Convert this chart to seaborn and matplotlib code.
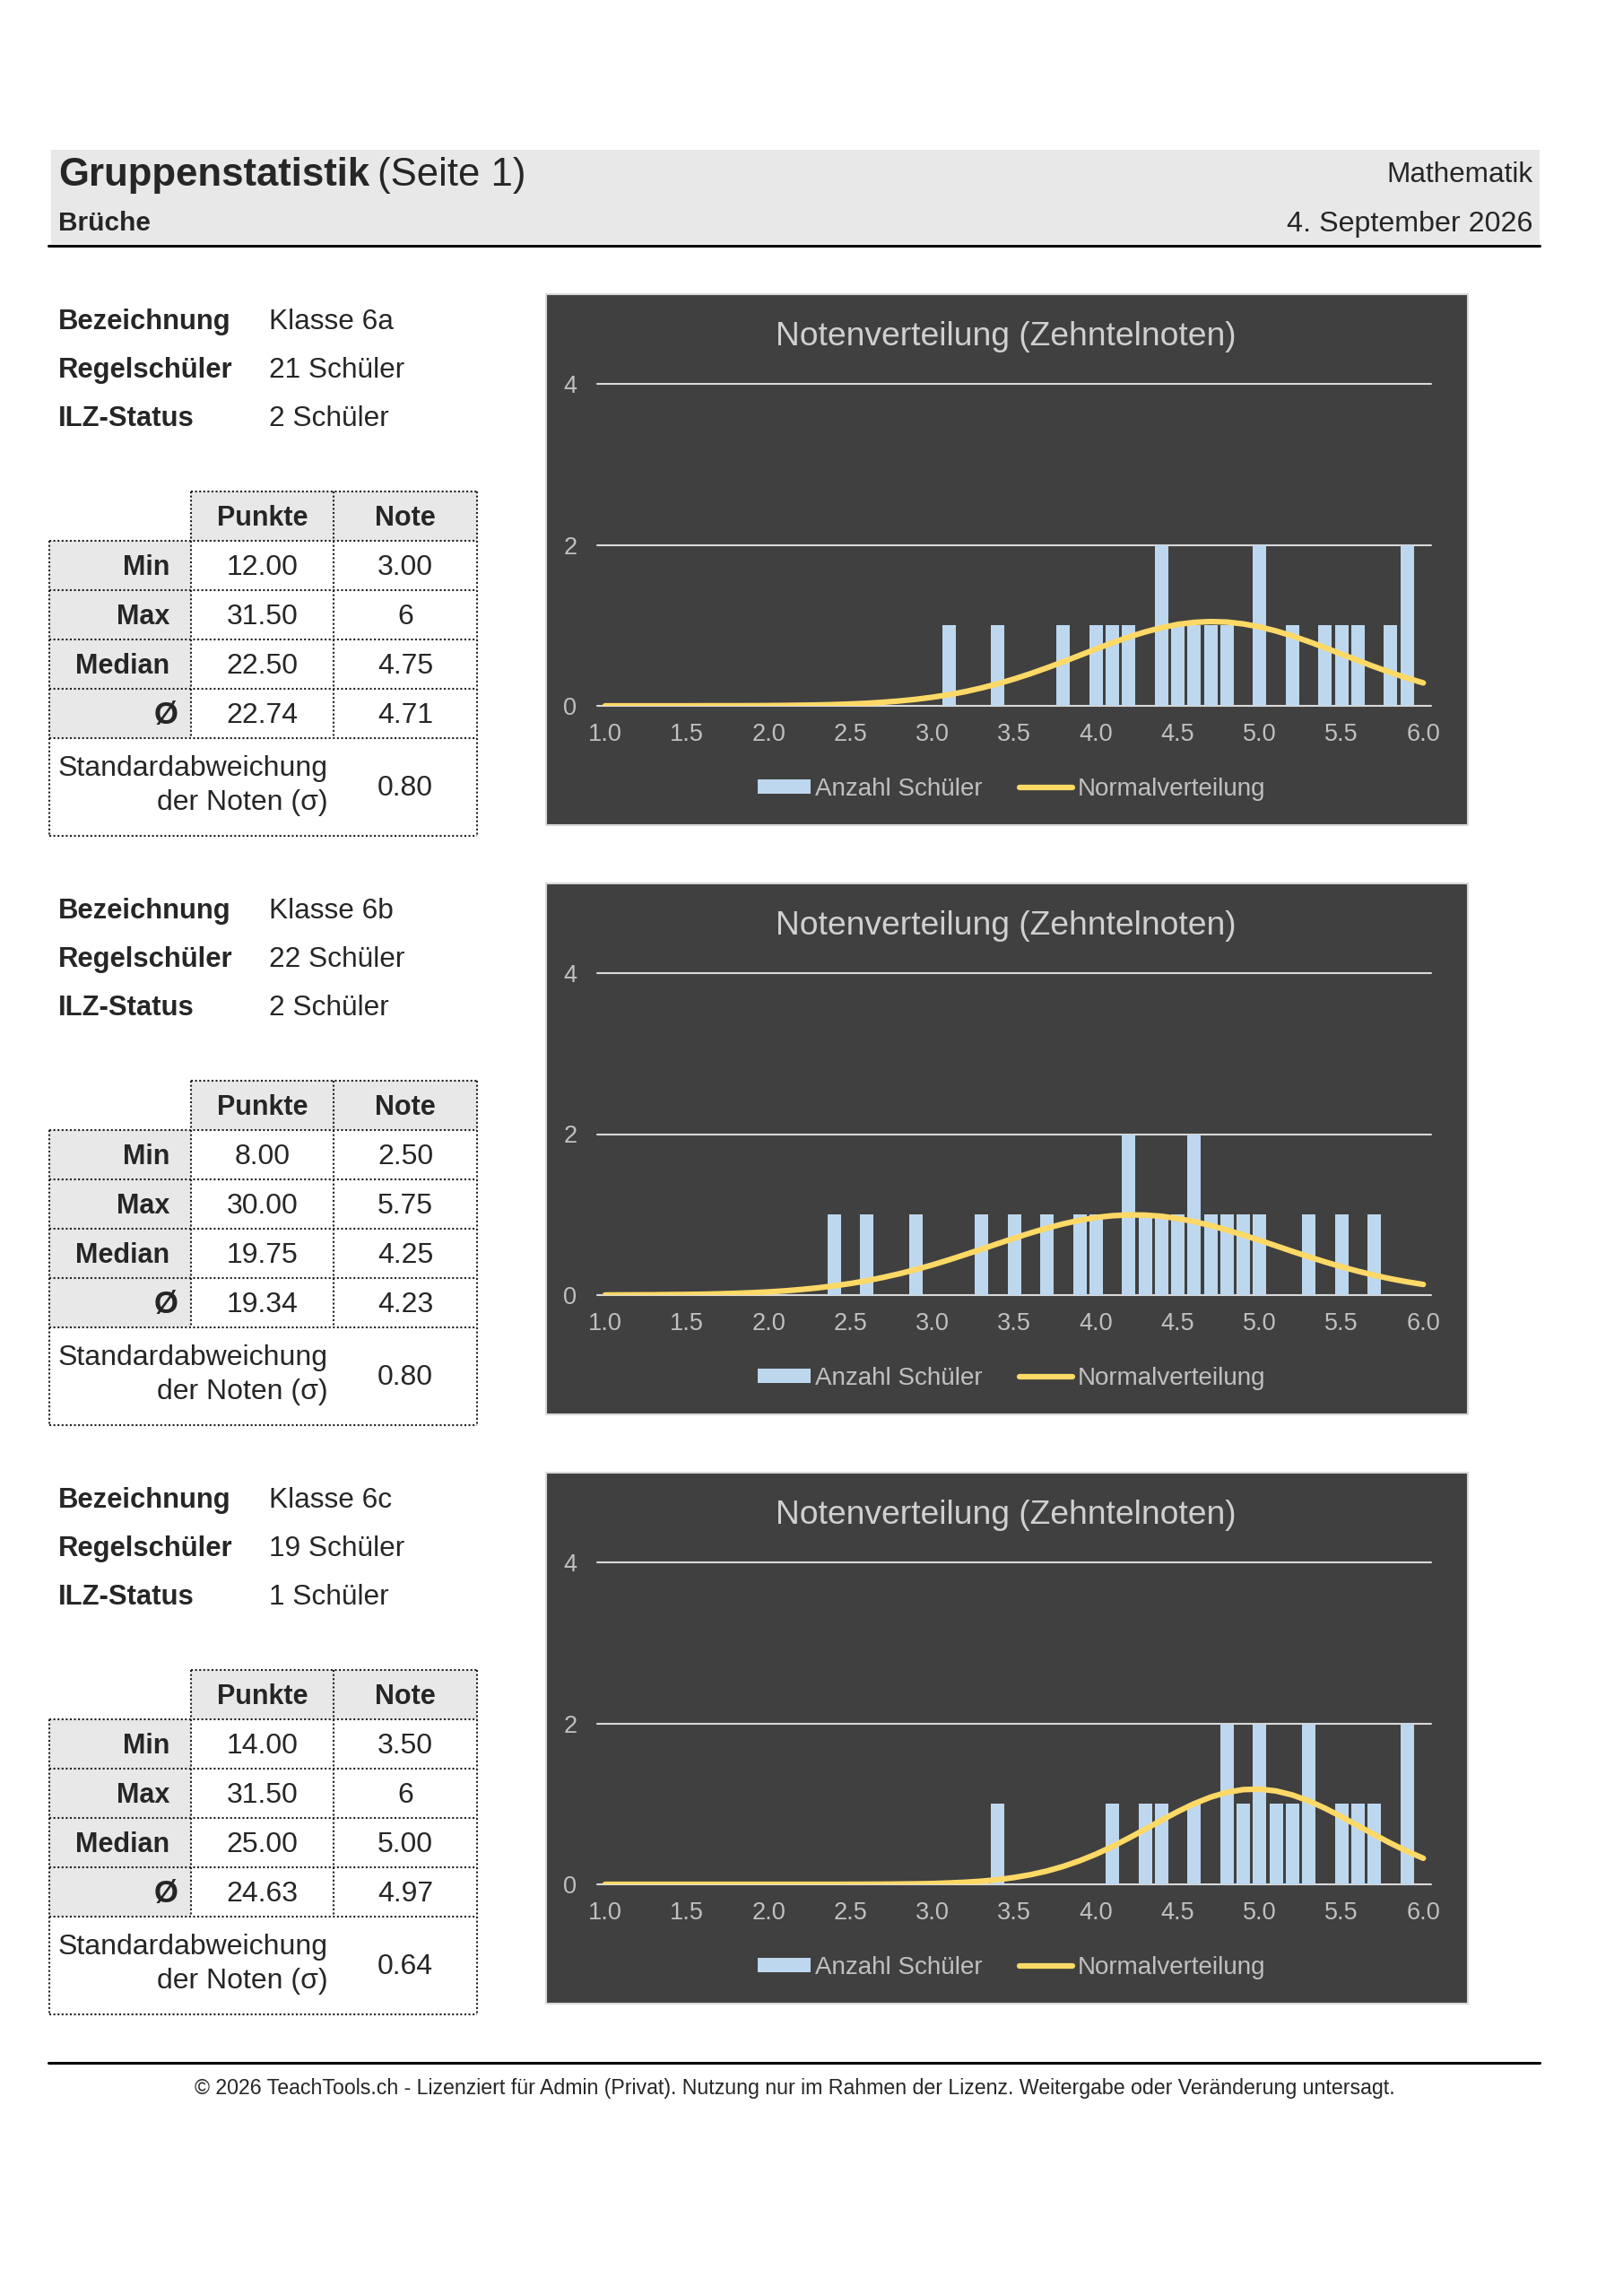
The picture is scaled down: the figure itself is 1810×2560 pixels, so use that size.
import numpy as np
import pandas as pd
import matplotlib
matplotlib.use("Agg")
import matplotlib.pyplot as plt
from matplotlib.patches import Rectangle
import seaborn as sns

# categories of the x axis (Zehntelnoten)
noten = ["1.0", "1.1", "1.2", "1.3", "1.4", "1.5", "1.6", "1.7", "1.8", "1.9",
         "2.0", "2.1", "2.2", "2.3", "2.4", "2.5", "2.6", "2.7", "2.8", "2.9",
         "3.0", "3.1", "3.2", "3.3", "3.4", "3.5", "3.6", "3.7", "3.8", "3.9",
         "4.0", "4.1", "4.2", "4.3", "4.4", "4.5", "4.6", "4.7", "4.8", "4.9",
         "5.0", "5.1", "5.2", "5.3", "5.4", "5.5", "5.6", "5.7", "5.8", "5.9",
         "6.0"]

# bars (Anzahl Schüler)
bar_noten_6a = ["3.1", "3.4", "3.8", "4.0", "4.1", "4.2", "4.4", "4.5", "4.6", "4.7",
                "4.8", "5.0", "5.2", "5.4", "5.5", "5.6", "5.8", "5.9"]
bar_anzahl_6a = [1, 1, 1, 1, 1, 1, 2, 1, 1, 1, 1, 2, 1, 1, 1, 1, 1, 2]
bar_noten_6b = ["2.4", "2.6", "2.9", "3.3", "3.5", "3.7", "3.9", "4.0", "4.2", "4.3",
                "4.4", "4.5", "4.6", "4.7", "4.8", "4.9", "5.0", "5.3", "5.5", "5.7"]
bar_anzahl_6b = [1, 1, 1, 1, 1, 1, 1, 1, 2, 1, 1, 1, 2, 1, 1, 1, 1, 1, 1, 1]
bar_noten_6c = ["3.4", "4.1", "4.3", "4.4", "4.6", "4.8", "4.9", "5.0", "5.1", "5.2",
                "5.3", "5.5", "5.6", "5.7", "5.9"]
bar_anzahl_6c = [1, 1, 1, 1, 1, 2, 1, 2, 1, 1, 2, 1, 1, 1, 2]

# Normalverteilung line, one value per category
kurve_6a = [0.000, 0.000, 0.000, 0.000, 0.000, 0.000, 0.001, 0.001, 0.001, 0.002,
            0.003, 0.005, 0.008, 0.011, 0.016, 0.023, 0.032, 0.045, 0.061, 0.081,
            0.107, 0.138, 0.176, 0.222, 0.274, 0.334, 0.400, 0.472, 0.548, 0.627,
            0.706, 0.783, 0.855, 0.918, 0.971, 1.012, 1.037, 1.047, 1.041, 1.018,
            0.981, 0.930, 0.868, 0.798, 0.722, 0.643, 0.564, 0.487, 0.414, 0.346,
            0.285]
kurve_6b = [0.001, 0.002, 0.003, 0.004, 0.006, 0.008, 0.011, 0.016, 0.022, 0.030,
            0.040, 0.053, 0.070, 0.090, 0.115, 0.144, 0.179, 0.220, 0.266, 0.318,
            0.375, 0.437, 0.503, 0.570, 0.639, 0.707, 0.772, 0.832, 0.885, 0.929,
            0.964, 0.986, 0.996, 0.994, 0.979, 0.951, 0.913, 0.865, 0.808, 0.746,
            0.680, 0.612, 0.543, 0.476, 0.412, 0.352, 0.297, 0.247, 0.203, 0.165,
            0.132]
kurve_6c = [0.000, 0.000, 0.000, 0.000, 0.000, 0.000, 0.000, 0.000, 0.000, 0.000,
            0.000, 0.000, 0.000, 0.000, 0.000, 0.001, 0.001, 0.002, 0.004, 0.006,
            0.010, 0.017, 0.026, 0.039, 0.058, 0.085, 0.120, 0.165, 0.223, 0.293,
            0.375, 0.470, 0.574, 0.684, 0.796, 0.904, 1.002, 1.083, 1.143, 1.177,
            1.183, 1.160, 1.110, 1.037, 0.945, 0.840, 0.729, 0.618, 0.511, 0.412,
            0.324]

# text blocks
klassen = ["Klasse 6a", "Klasse 6b", "Klasse 6c"]
regelschueler = ["21 Schüler", "22 Schüler", "19 Schüler"]
ilz_status = ["2 Schüler", "2 Schüler", "1 Schüler"]
zeilen = ["Min", "Max", "Median", "Ø"]
punkte_6a = ["12.00", "31.50", "22.50", "22.74"]
note_6a = ["3.00", "6", "4.75", "4.71"]
punkte_6b = ["8.00", "30.00", "19.75", "19.34"]
note_6b = ["2.50", "5.75", "4.25", "4.23"]
punkte_6c = ["14.00", "31.50", "25.00", "24.63"]
note_6c = ["3.50", "6", "5.00", "4.97"]
sigma = ["0.80", "0.80", "0.64"]

bar_noten = [bar_noten_6a, bar_noten_6b, bar_noten_6c]
bar_anzahl = [bar_anzahl_6a, bar_anzahl_6b, bar_anzahl_6c]
kurven = [kurve_6a, kurve_6b, kurve_6c]
punkte = [punkte_6a, punkte_6b, punkte_6c]
note = [note_6a, note_6b, note_6c]

sns.set_theme(style="white")
plt.rcParams['font.family'] = ['Liberation Sans', 'DejaVu Sans']

W, H = 1810, 2560
fig = plt.figure(figsize=(W / 100, H / 100), dpi=100)
pg = fig.add_axes([0, 0, 1, 1])
pg.set_xlim(0, W)
pg.set_ylim(H, 0)
pg.axis('off')

GRAY = '#e8e8e8'
DARK = '#404040'
LIGHT = '#c0c0c0'
BLUE = '#bdd7ee'
YELLOW = '#ffd966'

# header
pg.add_patch(Rectangle((57, 167), 1660, 105, fc=GRAY, ec='none'))
pg.plot([54, 1717], [274, 274], color='black', lw=2.2)
t = pg.text(65, 207, "Gruppenstatistik", fontsize=31.5, weight='bold', va='baseline')
fig.canvas.draw()
bb = t.get_window_extent(fig.canvas.get_renderer())
pg.text(bb.x1 + 9, 207, "(Seite 1)", fontsize=31.5, va='baseline')
pg.text(65, 257, "Brüche", fontsize=21.5, weight='bold', va='baseline')
pg.text(1709, 203, "Mathematik", fontsize=22.7, ha='right', va='baseline')
pg.text(1709, 258, "4. September 2026", fontsize=23.2, ha='right', va='baseline')


def dotted(xs, ys):
    pg.plot(xs, ys, color='#222222', lw=1.5, linestyle=(0, (1, 1.2)),
            solid_capstyle='butt', dash_capstyle='butt')


for k in range(3):
    dy = 657 * k

    # info block
    for i, (lab, val) in enumerate(zip(["Bezeichnung", "Regelschüler", "ILZ-Status"],
                                       [klassen[k], regelschueler[k], ilz_status[k]])):
        pg.text(65, 367 + dy + 54 * i, lab, fontsize=22.3, weight='bold', va='baseline')
        pg.text(300, 367 + dy + 54 * i, val, fontsize=22.8, va='baseline')

    # table
    top = 548 + dy
    pg.add_patch(Rectangle((213, top), 319, 55, fc=GRAY, ec='none'))
    pg.add_patch(Rectangle((55, top + 55), 158, 220, fc=GRAY, ec='none'))
    dotted([213, 532], [top, top])
    for r in range(1, 6):
        dotted([55, 532], [top + 55 * r, top + 55 * r])
    dotted([55, 532], [top + 384, top + 384])
    dotted([213, 213], [top, top + 275])
    dotted([372, 372], [top, top + 275])
    dotted([55, 55], [top + 55, top + 384])
    dotted([532, 532], [top, top + 384])
    pg.text(292.5, top + 38, "Punkte", fontsize=22, weight='bold', ha='center', va='baseline')
    pg.text(452, top + 38, "Note", fontsize=22, weight='bold', ha='center', va='baseline')
    for r in range(4):
        yb = top + 93 + 55 * r
        if zeilen[r] == "Ø":
            pg.text(199, yb + 1, zeilen[r], fontsize=25, weight='bold', ha='right', va='baseline')
        else:
            pg.text(189, yb, zeilen[r], fontsize=22, weight='bold', ha='right', va='baseline')
        pg.text(292.5, yb, punkte[k][r], fontsize=23, ha='center', va='baseline')
        pg.text(452, yb, note[k][r], fontsize=23, ha='center', va='baseline')
    pg.text(65, top + 317, "Standardabweichung", fontsize=23, va='baseline')
    pg.text(366, top + 355, "der Noten (σ)", fontsize=23, ha='right', va='baseline')
    pg.text(452, top + 339, sigma[k], fontsize=23, ha='center', va='baseline')

    # chart box
    pg.add_patch(Rectangle((609, 328 + dy), 1028, 592, fc=DARK, ec='#d9d9d9', lw=1.5))
    pg.text(1122, 385 + dy, "Notenverteilung (Zehntelnoten)", fontsize=26.8,
            color='#d0d0d0', ha='center', va='baseline')

    ax = fig.add_axes([665.7 / W, 1 - (787 + dy) / H, 930.7 / W, 359 / H])
    ax.set_facecolor('none')
    anzahl = pd.Series(bar_anzahl[k], index=bar_noten[k]).reindex(noten, fill_value=0)
    df = pd.DataFrame({"Note": noten, "Anzahl": anzahl.values})
    yticks = [0, 2, 4]
    for v in yticks:
        ax.axhline(v, color='#d9d9d9', lw=1.5, zorder=0.5, clip_on=False)
    sns.barplot(data=df, x="Note", y="Anzahl", order=noten, color=BLUE, saturation=1,
                width=0.82, linewidth=0, ax=ax, label="Anzahl Schüler", zorder=2)
    sns.lineplot(x=np.arange(len(noten)), y=kurven[k], ax=ax, color=YELLOW, linewidth=4.5,
                 label="Normalverteilung", solid_capstyle='round', zorder=3)
    if ax.get_legend() is not None:
        ax.get_legend().remove()
    ax.set_xlim(-0.5, len(noten) - 0.5)
    ax.set_ylim(0, 4)
    ax.set_yticks(yticks)
    ax.set_xticks(range(0, len(noten), 5))
    ax.set_xticklabels(noten[::5])
    ax.set_xlabel("")
    ax.set_ylabel("")
    for s in ax.spines.values():
        s.set_visible(False)
    ax.tick_params(axis='both', length=0, labelsize=19.5, labelcolor=LIGHT)
    ax.tick_params(axis='x', pad=14)
    ax.tick_params(axis='y', pad=16)
    h, l = ax.get_legend_handles_labels()
    order = [l.index("Anzahl Schüler"), l.index("Normalverteilung")]
    ax.legend([h[i] for i in order], [l[i] for i in order], loc='center',
              bbox_to_anchor=(1128, 880 + dy), bbox_transform=pg.transData,
              ncol=2, frameon=False, fontsize=20, labelcolor=LIGHT, handlelength=2.1,
              handleheight=0.5, handletextpad=0.2, columnspacing=1.5)

# footer
pg.plot([54, 1717], [2300, 2300], color='black', lw=2.2)
pg.text(886, 2335, "© 2026 TeachTools.ch - Lizenziert für Admin (Privat). Nutzung nur im Rahmen der Lizenz. "
        "Weitergabe oder Veränderung untersagt.", fontsize=16.7, ha='center', va='baseline')

fig.savefig("out.png", dpi=100)
